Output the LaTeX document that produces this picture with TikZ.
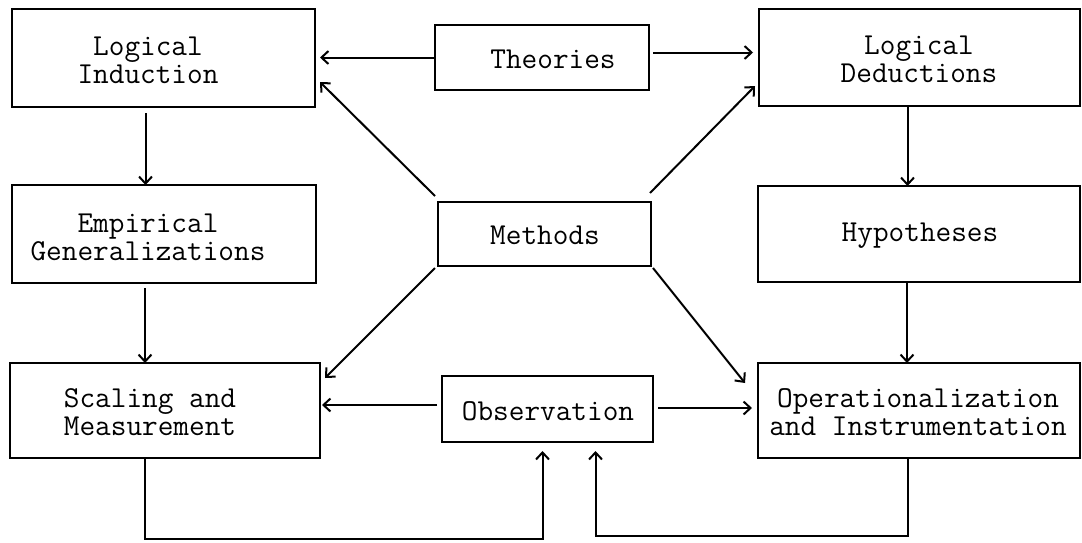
\documentclass[tikz,border=0pt]{standalone}
\usepackage{fontspec}
\usetikzlibrary{calc,arrows.meta}
\begin{document}
\begin{tikzpicture}[x=0.5pt,y=-0.5pt,
  box/.style={draw,line width=1.1pt,inner sep=0pt,outer sep=0pt},
  lbl/.style={inner sep=0pt,align=center,font=\ttfamily\fontsize{15.2pt}{14pt}\selectfont},
  arr/.style={line width=1pt,-{Straight Barb[length=3.5pt,width=6.5pt,line width=1pt]}},
  ln/.style={line width=1pt}]
\useasboundingbox (0,0) rectangle (1082,542);

% boxes
\node[box,minimum width=151.5pt,minimum height=49pt] (li)  at (163.5,58)  {};
\node[box,minimum width=107pt,minimum height=32.5pt] (th)  at (542,57.5)  {};
\node[box,minimum width=160.5pt,minimum height=48.5pt] (ld) at (919.5,57.5) {};
\node[box,minimum width=152pt,minimum height=49pt]   (eg)  at (164,234)   {};
\node[box,minimum width=106.5pt,minimum height=32pt] (me)  at (544.5,234) {};
\node[box,minimum width=161pt,minimum height=48pt]   (hy)  at (919,234)   {};
\node[box,minimum width=155pt,minimum height=47.5pt] (sm)  at (165,410.5) {};
\node[box,minimum width=105.5pt,minimum height=33pt] (ob)  at (547.5,409) {};
\node[box,minimum width=161pt,minimum height=47.5pt] (oi)  at (919,410.5) {};

% labels
\node[lbl] (li-t) at (148,60)  {Logical\\Induction};
\node[lbl] (th-t) at (553,59)  {Theories};
\node[lbl] (ld-t) at (919,59)  {Logical\\Deductions};
\node[lbl] (eg-t) at (148,237) {Empirical\\Generalizations};
\node[lbl] (me-t) at (545,235) {Methods};
\node[lbl] (hy-t) at (920,236) {Hypotheses};
\node[lbl] (sm-t) at (150,412) {Scaling and\\Measurement};
\node[lbl] (ob-t) at (548,411) {Observation};
\node[lbl] (oi-t) at (918,412) {Operationalization\\and Instrumentation};

% Theories to both logical steps
\draw[arr,shorten >=2.5pt] (th.west) -- (li.east |- th.west);
\draw[arr,shorten >=3pt] ($(th.east)+(4,-5)$) coordinate (thr) -- (ld.west |- thr);

% Methods to the four corners
\draw[arr] ($(me.north west)+(-3,-6)$) -- ($(li.south east)+(5,-25)$);
\draw[arr] ($(me.north east)+(-1,-9)$) -- ($(ld.south west)+(-4,-20)$);
\draw[arr] ($(me.south west)+(-3,2)$) -- ($(sm.north east)+(5,15)$);
\draw[arr] ($(me.south east)+(2,2)$) -- ($(oi.north west)+(-13,20)$);

% left column
\draw[arr] ($(li.south)+(-18,6)$) coordinate (a1) -- (a1 |- eg.north);
\draw[arr] ($(eg.south)+(-19,5)$) coordinate (a2) -- (a2 |- sm.north);

% right column
\draw[arr] ($(ld.south)+(-12,0)$) coordinate (a3) -- (a3 |- hy.north);
\draw[arr] ($(hy.south)+(-12,0)$) coordinate (a4) -- (a4 |- oi.north);

% Observation to both sides
\draw[arr,shorten >=1pt] ($(ob.west)+(-5,-4)$) coordinate (obl) -- (sm.east |- obl);
\draw[arr,shorten >=3pt] ($(ob.east)+(5,-1)$) coordinate (obr) -- (oi.west |- obr);

% feedback loops into Observation
\draw[arr,shorten >=4.5pt] ($(sm.south)+(-20,0)$) -- ++(0,81) -| ($(ob.south)+(-5,0)$);
\draw[arr,shorten >=4.5pt] ($(oi.south)+(-11,0)$) -- ++(0,78) -| ($(ob.south)+(48,0)$);
\end{tikzpicture}
\end{document}
